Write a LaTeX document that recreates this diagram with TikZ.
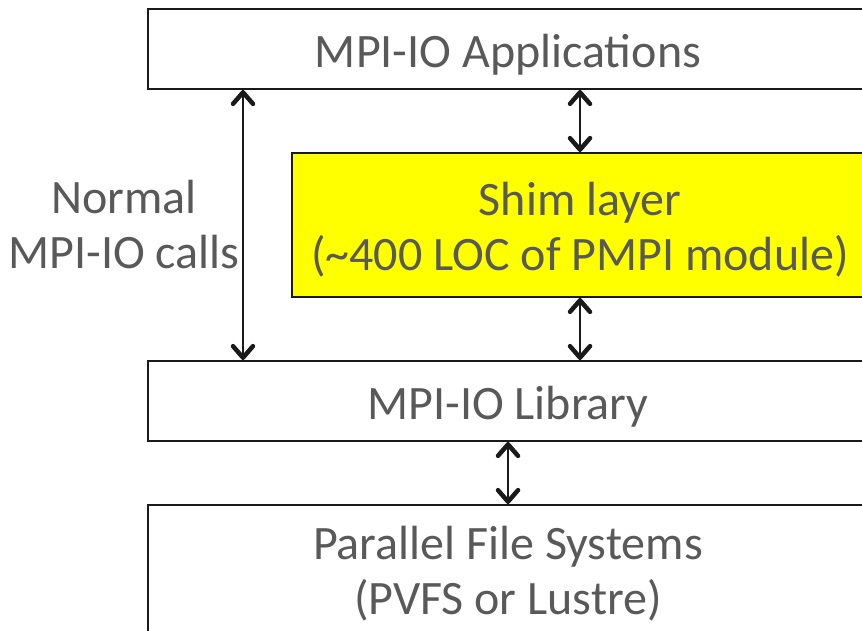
\documentclass[tikz,border=0pt]{standalone}
\usepackage{fontspec}
\setmainfont{Carlito}
\usetikzlibrary{calc}
\definecolor{txtgray}{HTML}{595959}
\definecolor{shimyellow}{HTML}{FFFF00}
\definecolor{edge}{HTML}{1A1A1A}
\tikzset{
  layerbox/.style={draw=edge, line width=1.7pt, minimum width=720pt, minimum height=80pt,
    inner sep=0pt},
  layertext/.style={align=center, text=txtgray, font=\fontsize{48}{55}\selectfont, inner sep=0pt},
  shaft/.style={draw=edge, line width=2pt},
  chevron/.style={draw=edge, line width=4.5pt, line cap=round, line join=round}
}
% two-headed vertical connector between an upper end #1 and a lower end #2
\newcommand\twowaylink[2]{%
  \draw[shaft] (#1) -- (#2);
  \draw[chevron] ($(#1)+(-10,14)$) -- ($(#1)+(0,2.5)$) -- ($(#1)+(10,14)$);
  \draw[chevron] ($(#2)+(-10,-14)$) -- ($(#2)+(0,-2.5)$) -- ($(#2)+(10,-14)$);
}
\begin{document}
\begin{tikzpicture}[x=1pt, y=-1pt]
  \useasboundingbox (0,0) rectangle (862,630);
  \clip (0,0) rectangle (862,630);

  % stacked layers (boxes run off the right edge)
  \node[layerbox] (app) at (508,49) {};
  \node[layerbox, fill=shimyellow, minimum width=576pt, minimum height=144pt] (shim) at (580,225) {};
  \node[layerbox] (lib) at (508,401) {};
  \node[layerbox, minimum height=134pt] (pfs) at (508,572) {};

  % layer captions
  \node[layertext] (apptext) at (508,55) {MPI-IO Applications};
  \node[layertext] (shimtext) at (580,230) {Shim layer\\(\textasciitilde 400 LOC of PMPI module)};
  \node[layertext] (libtext) at (508,407) {MPI-IO Library};
  \node[layertext] (pfstext) at (508,574) {Parallel File Systems\\(PVFS or Lustre)};

  % side label
  \node[layertext] (normal) at (124,225) {Normal\\MPI-IO calls};

  % horizontal positions of the connectors
  \coordinate (lx) at (243,0);
  \coordinate (sx) at (580,0);
  \coordinate (px) at (508,0);

  % connector ends on the box edges
  \coordinate (appL) at (app.south -| lx);
  \coordinate (libL) at (lib.north -| lx);
  \coordinate (appS) at (app.south -| sx);
  \coordinate (shimN) at (shim.north -| sx);
  \coordinate (shimS) at (shim.south -| sx);
  \coordinate (libS) at (lib.north -| sx);
  \coordinate (libP) at (lib.south -| px);
  \coordinate (pfsP) at (pfs.north -| px);

  \twowaylink{appL}{libL}
  \twowaylink{appS}{shimN}
  \twowaylink{shimS}{libS}
  \twowaylink{libP}{pfsP}
\end{tikzpicture}
\end{document}
